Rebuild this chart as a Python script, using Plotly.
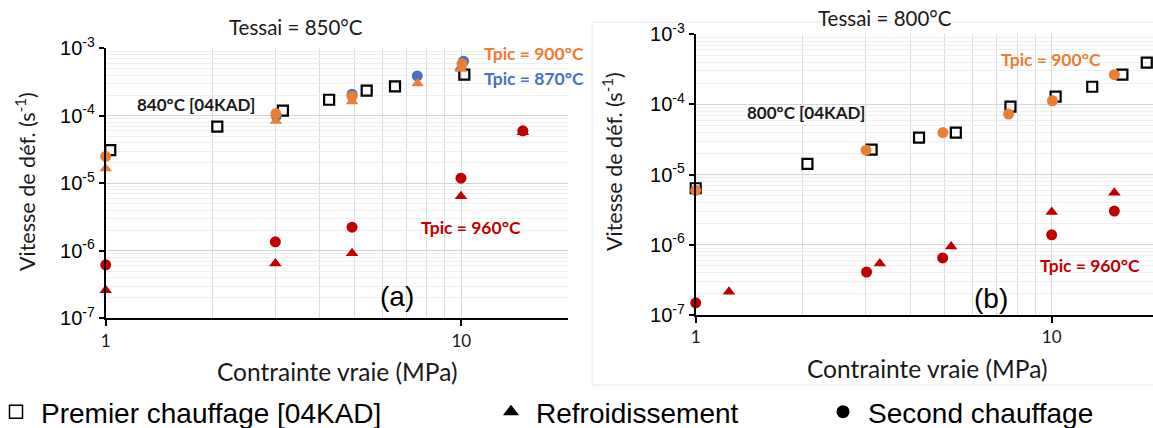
import numpy as np
import plotly.graph_objects as go

# ==========================================================
# Data (log-log)
# ==========================================================

# (a) Tessai = 850°C
a_sq_x = [1.03, 2.06, 3.15, 4.25, 5.42, 6.51, 10.2]
a_sq_y = [3.1e-5, 6.9e-5, 1.19e-4, 1.73e-4, 2.36e-4, 2.73e-4, 4.07e-4]

a_or_circ_x = [1.0, 3.01, 4.93, 10.05]
a_or_circ_y = [2.5e-5, 1.08e-4, 1.94e-4, 5.9e-4]
a_or_tri_x = [1.0, 3.01, 4.93, 7.54, 9.98]
a_or_tri_y = [1.65e-5, 8.4e-5, 1.63e-4, 3.0e-4, 4.95e-4]

a_bl_circ_x = [3.02, 4.93, 7.52, 10.15]
a_bl_circ_y = [1.0e-4, 2.08e-4, 3.9e-4, 6.45e-4]
a_bl_tri_x = [9.95]
a_bl_tri_y = [5.2e-4]

a_rd_circ_x = [1.0, 3.0, 4.93, 9.98, 14.9]
a_rd_circ_y = [6.2e-7, 1.36e-6, 2.24e-6, 1.19e-5, 6.0e-5]
a_rd_tri_x = [1.0, 3.0, 4.93, 9.98, 14.9]
a_rd_tri_y = [2.6e-7, 6.5e-7, 9.2e-7, 6.45e-6, 5.7e-5]

# (b) Tessai = 800°C
b_sq_x = [1.0, 2.06, 3.12, 4.24, 5.38, 7.66, 10.26, 13.0, 15.8, 18.5]
b_sq_y = [6.4e-6, 1.42e-5, 2.28e-5, 3.38e-5, 3.98e-5, 9.3e-5, 1.29e-4,
          1.79e-4, 2.66e-4, 3.94e-4]

b_or_circ_x = [1.0, 3.01, 4.95, 7.57, 10.05, 15.0]
b_or_circ_y = [5.97e-6, 2.23e-5, 3.98e-5, 7.3e-5, 1.13e-4, 2.66e-4]

b_rd_circ_x = [1.0, 3.02, 4.94, 10.0, 15.0]
b_rd_circ_y = [1.49e-7, 4.1e-7, 6.5e-7, 1.39e-6, 3.03e-6]
b_rd_tri_x = [1.24, 3.29, 5.22, 10.0, 15.0]
b_rd_tri_y = [2.15e-7, 5.4e-7, 9.5e-7, 2.93e-6, 5.5e-6]

y_tick_vals = [1e-7, 1e-6, 1e-5, 1e-4, 1e-3]
y_tick_text = ["10<sup>-7</sup>", "10<sup>-6</sup>", "10<sup>-5</sup>",
               "10<sup>-4</sup>", "10<sup>-3</sup>"]
x_tick_vals = [1, 10]
x_tick_text = ["1", "10"]

legend_names = ["Premier chauffage [04KAD]", "Refroidissement", "Second chauffage"]

# ==========================================================
# Style
# ==========================================================

W, H = 1153, 428
ORANGE = "#ED7D31"
BLUE = "#4472C4"
RED = "#C00000"
BLACK = "#000000"
TXT = "#1a1a1a"
CAL = "Lato, 'Noto Sans', sans-serif"
ARIAL = "'Liberation Sans', Arial, sans-serif"


def px_x(p):
    return p / W


def px_y(p):
    return 1 - p / H


fig = go.Figure()


def add_pts(x, y, symbol, color, xa, ya, size=11, hollow=False):
    if hollow:
        marker = dict(symbol=symbol, size=size, color="rgba(255,255,255,0)",
                      line=dict(color=color, width=2.2))
    else:
        marker = dict(symbol=symbol, size=size, color=color, line=dict(width=0))
    fig.add_trace(go.Scatter(
        x=x, y=y, mode="markers", marker=marker,
        xaxis=xa, yaxis=ya, showlegend=False, cliponaxis=False,
    ))


# panel (a)
add_pts(a_sq_x, a_sq_y, "square", BLACK, "x", "y", size=10, hollow=True)
add_pts(a_bl_tri_x, a_bl_tri_y, "triangle-up", BLUE, "x", "y")
add_pts(a_bl_circ_x, a_bl_circ_y, "circle", BLUE, "x", "y")
add_pts(a_or_tri_x, a_or_tri_y, "triangle-up", ORANGE, "x", "y")
add_pts(a_or_circ_x, a_or_circ_y, "circle", ORANGE, "x", "y")
add_pts(a_rd_tri_x, a_rd_tri_y, "triangle-up", RED, "x", "y")
add_pts(a_rd_circ_x, a_rd_circ_y, "circle", RED, "x", "y")

# panel (b)
add_pts(b_sq_x, b_sq_y, "square", BLACK, "x2", "y2", size=10, hollow=True)
add_pts(b_or_circ_x, b_or_circ_y, "circle", ORANGE, "x2", "y2")
add_pts(b_rd_tri_x, b_rd_tri_y, "triangle-up", RED, "x2", "y2")
add_pts(b_rd_circ_x, b_rd_circ_y, "circle", RED, "x2", "y2")

# legend entries (black symbols), one legend each so they sit where the original does
legend_symbols = [
    dict(symbol="square", size=13, color="rgba(255,255,255,0)",
         line=dict(color=BLACK, width=1.5)),
    dict(symbol="triangle-up", size=14, color=BLACK, line=dict(width=0)),
    dict(symbol="circle", size=13, color=BLACK, line=dict(width=0)),
]
legend_ids = ["legend", "legend2", "legend3"]
for name, mk, lg in zip(legend_names, legend_symbols, legend_ids):
    fig.add_trace(go.Scatter(
        x=[None], y=[None], mode="markers", marker=mk, name=name,
        legend=lg, showlegend=True,
    ))

# ==========================================================
# Axes
# ==========================================================

minor_y = [k * 10.0 ** e for e in range(-7, -3) for k in range(2, 10)]
minor_x = [2, 3, 4, 5, 6, 7, 8, 9, 20]

xaxis_common = dict(
    type="log", automargin=False,
    tickvals=x_tick_vals, ticktext=x_tick_text,
    showgrid=True, gridcolor="#d9d9d9", gridwidth=1.2,
    minor=dict(tickvals=minor_x, showgrid=True, gridcolor="#dcdcdc",
               gridwidth=1.2, ticks=""),
    showline=True, linecolor=BLACK, linewidth=1.8,
    ticks="outside", ticklen=6, tickwidth=1.5, tickcolor=BLACK,
    tickfont=dict(family=CAL, size=17, color=TXT),
    zeroline=False,
)
yaxis_common = dict(
    type="log", range=[-7, -3], automargin=False,
    tickvals=y_tick_vals, ticktext=y_tick_text,
    showgrid=True, gridcolor="#d4d4d4", gridwidth=1.3,
    minor=dict(tickvals=minor_y, showgrid=True, gridcolor="#efefef",
               gridwidth=1, ticks=""),
    showline=True, linecolor=BLACK, linewidth=1.8,
    ticks="outside", ticklen=5, tickwidth=1.5, tickcolor=BLACK,
    tickfont=dict(family=ARIAL, size=20, color=BLACK),
    zeroline=False,
)

fig.update_layout(
    xaxis=dict(xaxis_common, domain=[px_x(105.7), px_x(568.3)],
               range=[0, np.log10(20)], anchor="y"),
    yaxis=dict(yaxis_common, domain=[px_y(318.3), px_y(48.3)], anchor="x"),
    xaxis2=dict(xaxis_common, domain=[px_x(695.7), 1.0],
                range=[0, np.log10(19.26)], anchor="y2"),
    yaxis2=dict(yaxis_common, domain=[px_y(315), px_y(34.3)], anchor="x2"),
)

# ==========================================================
# Text
# ==========================================================

ann = []


def note(text, x, y, xref, yref, color=TXT, size=17, bold=False,
         family=CAL, xanchor="center", angle=0, log=True):
    if log:
        x, y = np.log10(x), np.log10(y)
    ann.append(dict(
        text="<b>%s</b>" % text if bold else text,
        x=x, y=y, xref=xref, yref=yref, showarrow=False,
        xanchor=xanchor, yanchor="middle", textangle=angle,
        font=dict(family=family, size=size, color=color),
    ))


# panel (a) labels
note("840°C [04KAD]", 1.79, 1.48e-4, "x", "y", bold=True)
note("Tpic = 900°C", 11.4, 8.4e-4, "x", "y", color=ORANGE, size=17.5, bold=True, xanchor="left")
note("Tpic = 870°C", 11.4, 3.6e-4, "x", "y", color=BLUE, size=17.5, bold=True, xanchor="left")
note("Tpic = 960°C", 7.6, 2.23e-6, "x", "y", color=RED, size=17.5, bold=True, xanchor="left")
note("(a)", 6.6, 2.09e-7, "x", "y", color=BLACK, size=28, family=ARIAL)

# panel (b) labels
note("800°C [04KAD]", 2.04, 7.57e-5, "x2", "y2", bold=True)
note("Tpic = 900°C", 9.95, 4.4e-4, "x2", "y2", color=ORANGE, size=17.5, bold=True)
note("Tpic = 960°C", 12.8, 5.06e-7, "x2", "y2", color=RED, size=17.5, bold=True)
note("(b)", 6.74, 1.7e-7, "x2", "y2", color=BLACK, size=28, family=ARIAL)

# titles and axis titles (paper positions)
note("Tessai = 850°C", px_x(296), px_y(27), "paper", "paper", size=20.5, log=False)
note("Tessai = 800°C", px_x(885), px_y(18), "paper", "paper", size=20.5, log=False)
note("Contrainte vraie (MPa)", px_x(337), px_y(371), "paper", "paper", size=24.5, log=False)
note("Contrainte vraie (MPa)", px_x(927), px_y(368), "paper", "paper", size=24.5, log=False)
note("Vitesse de déf. (s<sup>-1</sup>)", px_x(25), px_y(182), "paper", "paper",
     size=21.5, angle=-90, log=False)
note("Vitesse de déf. (s<sup>-1</sup>)", px_x(613), px_y(161), "paper", "paper",
     size=21.5, angle=-90, log=False)

legend_style = dict(
    orientation="h", yanchor="middle", xanchor="left",
    font=dict(family=ARIAL, size=28, color=BLACK),
    bgcolor="rgba(0,0,0,0)", borderwidth=0, itemwidth=40,
)

fig.update_layout(
    width=W, height=H,
    margin=dict(l=0, r=0, t=0, b=0, autoexpand=False),
    paper_bgcolor="white",
    plot_bgcolor="white",
    annotations=ann,
    shapes=[dict(
        type="rect", xref="paper", yref="paper",
        x0=px_x(592), x1=1.01, y0=px_y(385), y1=px_y(22),
        line=dict(color="#e8e8e8", width=1), layer="below",
    )],
    legend=dict(legend_style, x=px_x(-9), y=px_y(412)),
    legend2=dict(legend_style, x=px_x(486), y=px_y(412)),
    legend3=dict(legend_style, x=px_x(818), y=px_y(412)),
)

# the page body has a default 8px margin; drop it so the figure sits at 0,0
fig.write_html(
    "out.html",
    config={"displayModeBar": False},
    post_script="document.body.style.margin='0';",
)
